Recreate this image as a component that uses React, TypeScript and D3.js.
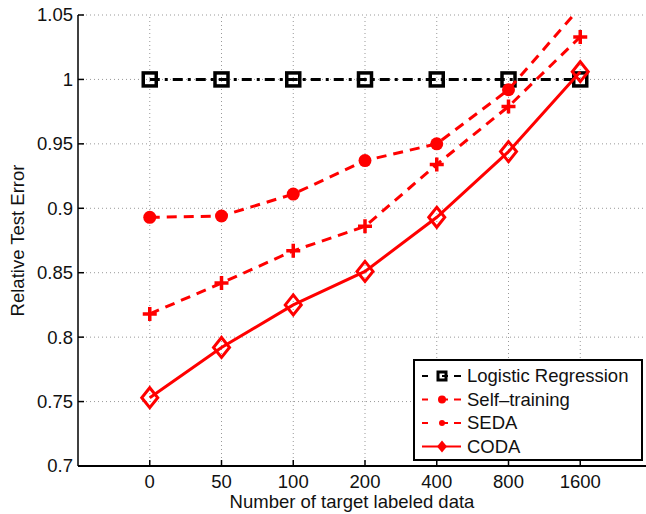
import * as d3 from 'd3';

// categories on the x axis (evenly spaced)
const categories = ['0', '50', '100', '200', '400', '800', '1600'];
const yTicks = [0.7, 0.75, 0.8, 0.85, 0.9, 0.95, 1, 1.05];

// relative test error per method
const logisticValues = [1, 1, 1, 1, 1, 1, 1];
const selfTrainingValues = [0.893, 0.894, 0.911, 0.937, 0.95, 0.992, 1.056];
const sedaValues = [0.818, 0.842, 0.867, 0.886, 0.934, 0.979, 1.033];
const codaValues = [0.753, 0.792, 0.825, 0.851, 0.893, 0.944, 1.006];

const legendLabels = ['Logistic Regression', 'Self\u2013training', 'SEDA', 'CODA'];

const W = 646;
const H = 514;
const margin = { top: 15, right: 0, bottom: 48, left: 78 };
const font = 'Liberation Sans, Arial, Helvetica, sans-serif';

const App = () => {
  const x = d3.scaleLinear().domain([-1, 7]).range([margin.left, 652]);
  const y = d3.scaleLinear().domain([0.7, 1.05]).range([H - margin.bottom, margin.top]);

  const line = d3.line<number>()
    .x((_, i) => x(i))
    .y(d => y(d));

  const inRange = (v: number) => v <= 1.05 && v >= 0.7;
  const plotRight = W;

  return (
    <svg width={W} height={H} style={{ position: 'absolute', left: 0, top: 0, background: '#fff' }}>
      <defs>
        <clipPath id='plot-clip'>
          <rect x={margin.left} y={y(1.05) - 1} width={plotRight - margin.left} height={y(0.7) - y(1.05) + 1} />
        </clipPath>
      </defs>

      {/* grid */}
      <g stroke='#999' strokeWidth={1} strokeDasharray='1,3'>
        {yTicks.map(t => (
          <line key={'gy' + t} x1={margin.left} x2={plotRight} y1={y(t)} y2={y(t)} />
        ))}
        {categories.map((c, i) => (
          <line key={'gx' + c} x1={x(i)} x2={x(i)} y1={y(0.7)} y2={y(1.05)} />
        ))}
      </g>

      {/* axes */}
      <g stroke='#000' strokeWidth={1.5}>
        <line x1={margin.left} x2={margin.left} y1={y(1.05)} y2={y(0.7)} />
        <line x1={margin.left} x2={plotRight} y1={y(0.7)} y2={y(0.7)} strokeWidth={2} />
        {yTicks.map(t => (
          <line key={'ty' + t} x1={margin.left} x2={margin.left + 6} y1={y(t)} y2={y(t)} />
        ))}
        {categories.map((c, i) => (
          <line key={'tx' + c} x1={x(i)} x2={x(i)} y1={y(0.7)} y2={y(0.7) - 6} />
        ))}
      </g>
      <g fontFamily={font} fontSize={18.5} fill='#111'>
        {yTicks.map(t => (
          <text key={'ly' + t} x={margin.left - 5} y={y(t)} dy='0.35em' textAnchor='end'>{String(t)}</text>
        ))}
        {categories.map((c, i) => (
          <text key={'lx' + c} x={x(i)} y={y(0.7) + 22} textAnchor='middle'>{c}</text>
        ))}
        <text x={352} y={508} textAnchor='middle'>Number of target labeled data</text>
        <text transform={`translate(24, ${(y(0.7) + y(1.05)) / 2}) rotate(-90)`} textAnchor='middle'>Relative Test Error</text>
      </g>

      <g clipPath='url(#plot-clip)'>
        {/* logistic regression */}
        <path d={line(logisticValues) || ''} fill='none' stroke='#000' strokeWidth={3} strokeDasharray='10,5,3,5' />
        {logisticValues.map((v, i) => inRange(v) && (
          <rect key={'sq' + i} x={x(i) - 6.5} y={y(v) - 6.5} width={13} height={13} fill='none' stroke='#000' strokeWidth={3.5} />
        ))}

        {/* self-training */}
        <path d={line(selfTrainingValues) || ''} fill='none' stroke='#f00' strokeWidth={3} strokeDasharray='10,7' />
        {selfTrainingValues.map((v, i) => inRange(v) && (
          <circle key={'ci' + i} cx={x(i)} cy={y(v)} r={6.5} fill='#f00' />
        ))}

        {/* SEDA */}
        <path d={line(sedaValues) || ''} fill='none' stroke='#f00' strokeWidth={3} strokeDasharray='10,7' />
        {sedaValues.map((v, i) => inRange(v) && (
          <path key={'pl' + i} d={`M${x(i) - 7},${y(v)}H${x(i) + 7}M${x(i)},${y(v) - 7}V${y(v) + 7}`} stroke='#f00' strokeWidth={3.5} />
        ))}

        {/* CODA */}
        <path d={line(codaValues) || ''} fill='none' stroke='#f00' strokeWidth={3} />
        {codaValues.map((v, i) => inRange(v) && (
          <path key={'di' + i} d={`M${x(i)},${y(v) - 10}L${x(i) + 8},${y(v)}L${x(i)},${y(v) + 10}L${x(i) - 8},${y(v)}Z`} fill='none' stroke='#f00' strokeWidth={3} />
        ))}
      </g>

      {/* legend */}
      <g>
        <rect x={414} y={360} width={228} height={100} fill='#fff' stroke='#000' strokeWidth={2} />
        {legendLabels.map((label, i) => {
          const ly = 376 + i * 23.5;
          const color = i === 0 ? '#000' : '#f00';
          return (
            <g key={label}>
              {i === 3
                ? <line x1={422} x2={461} y1={ly} y2={ly} stroke={color} strokeWidth={2} />
                : <line x1={422} x2={461} y1={ly} y2={ly} stroke={color} strokeWidth={2} strokeDasharray='6,7,0,7,6' />}
              {i === 0 && <rect x={438} y={ly - 4} width={8} height={8} fill='none' stroke='#000' strokeWidth={3} />}
              {i === 1 && <circle cx={442} cy={ly} r={4} fill='#f00' />}
              {i === 2 && <circle cx={442} cy={ly} r={3} fill='#f00' />}
              {i === 3 && <path d={`M442,${ly - 6}L447,${ly}L442,${ly + 6}L437,${ly}Z`} fill='#f00' />}
              <text x={467} y={ly} dy='0.35em' fontFamily={font} fontSize={18.5} fill='#111'>{label}</text>
            </g>
          );
        })}
      </g>
    </svg>
  );
};

export default App;
